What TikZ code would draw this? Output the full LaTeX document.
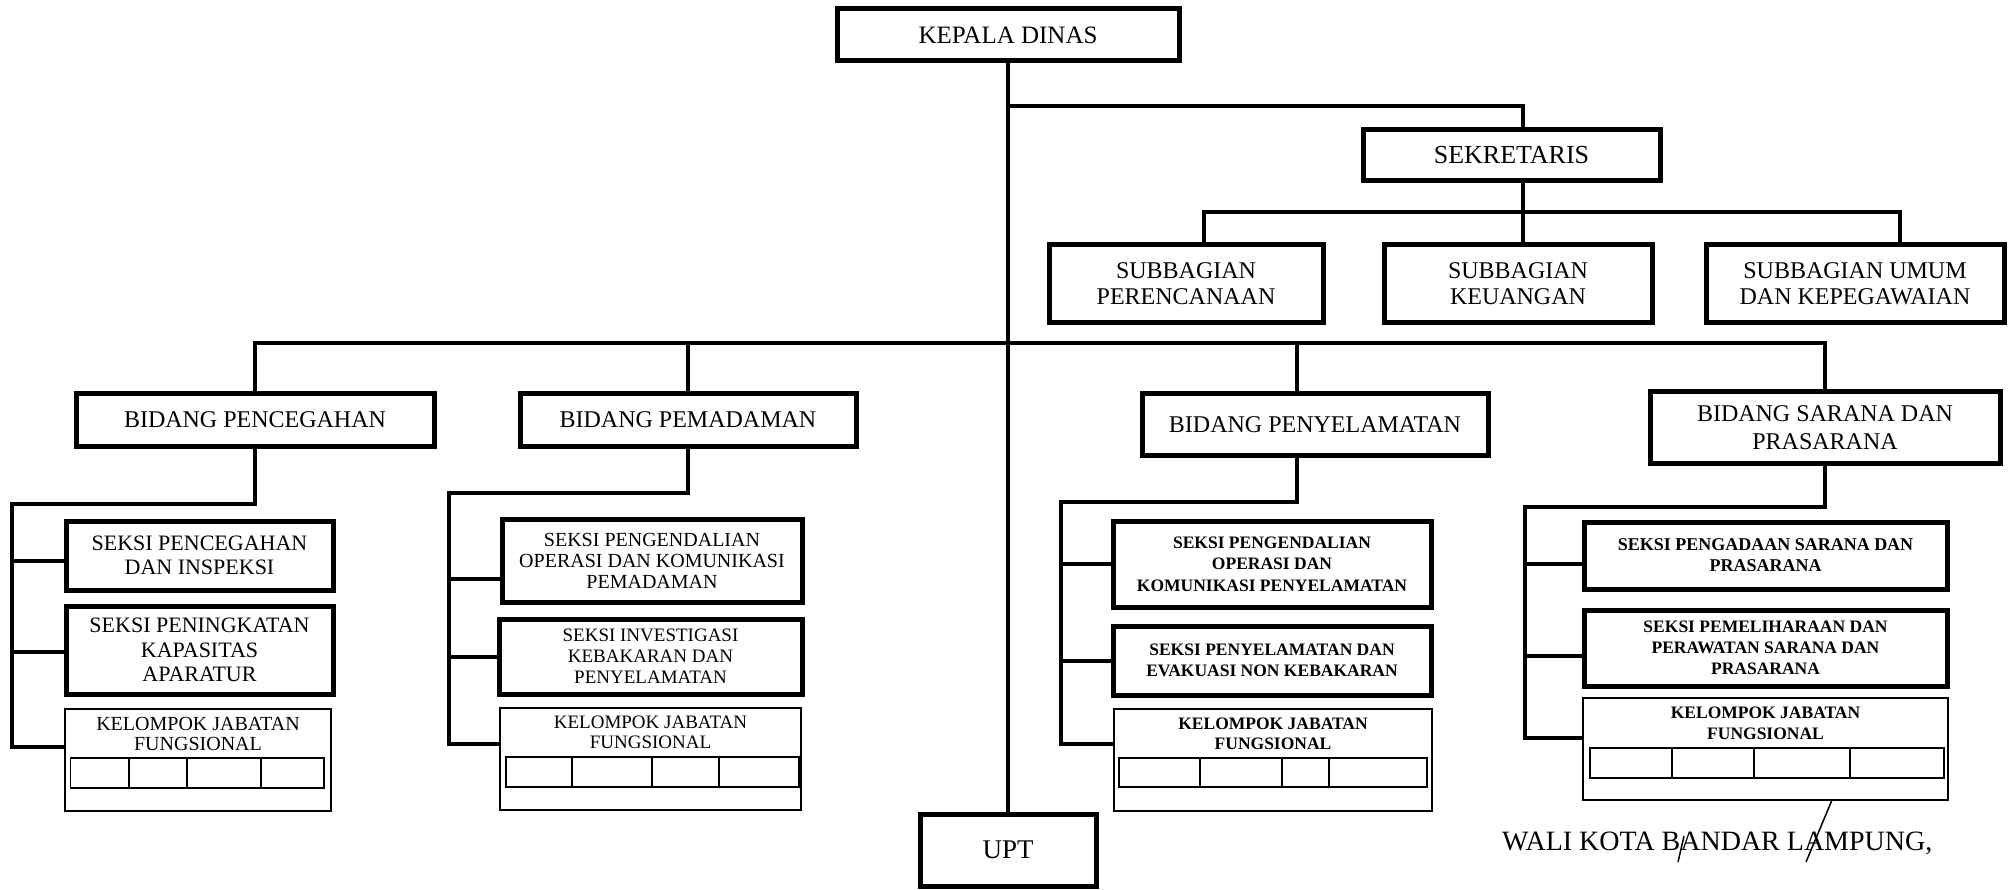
\documentclass[tikz,border=0pt]{standalone}
\usepackage{fontspec}
\setmainfont{Liberation Serif}
\newcommand{\fs}[2]{\fontsize{#1}{#2}\selectfont}
\tikzset{
  box/.style={draw, line width=5pt, rectangle, align=center, inner sep=0pt},
  thinbox/.style={draw, line width=2pt, rectangle, inner sep=0pt},
  conn/.style={line width=4pt},
  tbl/.style={line width=1.5pt},
  ttl/.style={anchor=north, align=center, inner sep=0pt},
}
\begin{document}
\begin{tikzpicture}[x=1pt,y=-1pt]
\useasboundingbox (0,0) rectangle (2011,890);
% top
\node[box, minimum width=342pt, minimum height=52pt, font=\fs{25}{28}] (kd) at (1008,35) {KEPALA DINAS};
\node[box, minimum width=297pt, minimum height=51pt, font=\fs{26}{28}] (sek) at (1511.5,155.5) {SEKRETARIS};
\node[box, minimum width=274pt, minimum height=78pt, font=\fs{24}{26}] (sp) at (1186,284) {SUBBAGIAN\\PERENCANAAN};
\node[box, minimum width=268pt, minimum height=78pt, font=\fs{24}{26}] (sk) at (1518,284) {SUBBAGIAN\\KEUANGAN};
\node[box, minimum width=298pt, minimum height=78pt, font=\fs{24}{26}] (su) at (1855,284) {SUBBAGIAN UMUM\\DAN KEPEGAWAIAN};
% bidang
\node[box, minimum width=358pt, minimum height=52pt, font=\fs{24}{28}] (bp) at (255,420) {BIDANG PENCEGAHAN};
\node[box, minimum width=336pt, minimum height=52pt, font=\fs{24}{28}] (pm) at (688,420) {BIDANG PEMADAMAN};
\node[box, minimum width=346pt, minimum height=61pt, font=\fs{24}{28}] (py) at (1315,424.5) {BIDANG PENYELAMATAN};
\node[box, minimum width=350pt, minimum height=71pt, font=\fs{24}{28}] (bs) at (1825,427.5) {BIDANG SARANA DAN\\PRASARANA};
% column 1
\node[box, minimum width=267pt, minimum height=69pt, font=\fs{22}{24}] (s11) at (199.5,555.5) {SEKSI PENCEGAHAN\\DAN INSPEKSI};
\node[box, minimum width=267pt, minimum height=88pt, font=\fs{22}{24.5}] (s12) at (199.5,650) {SEKSI PENINGKATAN\\KAPASITAS\\APARATUR};
\node[thinbox, minimum width=266pt, minimum height=102pt] (kj1) at (198,760) {};
\node[ttl, font=\fs{20}{20}] (kj1t) at ([yshift=-9pt]kj1.north) {KELOMPOK JABATAN\\FUNGSIONAL};
% column 2
\node[box, minimum width=300pt, minimum height=83pt, font=\fs{20}{21}] (s21) at (652,560.5) {SEKSI PENGENDALIAN\\OPERASI DAN KOMUNIKASI\\PEMADAMAN};
\node[box, minimum width=303pt, minimum height=75pt, font=\fs{19}{21}] (s22) at (650.5,656.5) {SEKSI INVESTIGASI\\KEBAKARAN DAN\\PENYELAMATAN};
\node[thinbox, minimum width=301pt, minimum height=102pt] (kj2) at (650.5,759) {};
\node[ttl, font=\fs{19}{20}] (kj2t) at ([yshift=-9pt]kj2.north) {KELOMPOK JABATAN\\FUNGSIONAL};
% column 3
\node[box, minimum width=318pt, minimum height=86pt, font=\bfseries\fs{17.5}{21.5}] (s31) at (1272,564) {SEKSI PENGENDALIAN\\OPERASI DAN\\KOMUNIKASI PENYELAMATAN};
\node[box, minimum width=318pt, minimum height=69pt, font=\bfseries\fs{17.5}{21.5}] (s32) at (1272,660.5) {SEKSI PENYELAMATAN DAN\\EVAKUASI NON KEBAKARAN};
\node[thinbox, minimum width=318pt, minimum height=102pt] (kj3) at (1273,760) {};
\node[ttl, font=\bfseries\fs{17.5}{20}] (kj3t) at ([yshift=-10pt]kj3.north) {KELOMPOK JABATAN\\FUNGSIONAL};
% column 4
\node[box, minimum width=363pt, minimum height=67pt, font=\bfseries\fs{18}{21}] (s41) at (1765.5,555.5) {SEKSI PENGADAAN SARANA DAN\\PRASARANA};
\node[box, minimum width=363pt, minimum height=76pt, font=\bfseries\fs{17.5}{21}] (s42) at (1765.5,648) {SEKSI PEMELIHARAAN DAN\\PERAWATAN SARANA DAN\\PRASARANA};
\node[thinbox, minimum width=365pt, minimum height=102pt] (kj4) at (1765.5,749) {};
\node[ttl, font=\bfseries\fs{17.5}{21}] (kj4t) at ([yshift=-10pt]kj4.north) {KELOMPOK JABATAN\\FUNGSIONAL};
% UPT
\node[box, minimum width=176pt, minimum height=72pt, font=\fs{27}{28}] (upt) at (1008,850) {UPT};
% signature line
\node[anchor=west, inner sep=0pt, font=\fs{28}{30}] (wali) at (1502,843) {WALI KOTA BANDAR LAMPUNG,};
\draw[line width=1.5pt] (1832,800) -- (1806,862);
\draw[line width=1.5pt] (1684,836) -- (1678,862);

% coordinates for connectors
\coordinate (b1) at (0,106);
\coordinate (b2) at (0,212);
\coordinate (b3) at (0,343);
\coordinate (sekT) at ([xshift=11.5pt]sek.north);
\coordinate (sekB) at ([xshift=11.5pt]sek.south);
\coordinate (spT) at ([xshift=18pt]sp.north);
\coordinate (skT) at ([xshift=5pt]sk.north);
\coordinate (suT) at ([xshift=45pt]su.north);
\coordinate (pyT) at ([xshift=-18pt]py.north);
\coordinate (pyB) at ([xshift=-18pt]py.south);
\coordinate (c1) at (12,504);
\coordinate (c2) at (449,493);
\coordinate (c3) at (1061,502);
\coordinate (c4) at (1525,507);
\coordinate (s11b) at ([yshift=-5.5pt]s11.west);
\coordinate (s12b) at ([yshift=-2pt]s12.west);
\coordinate (k1b) at ([yshift=-39pt]kj1.north west);
\coordinate (s21b) at ([yshift=-18.5pt]s21.west);
\coordinate (s22b) at (s22.west);
\coordinate (k2b) at ([yshift=-37pt]kj2.north west);
\coordinate (s31b) at (s31.west);
\coordinate (s32b) at (s32.west);
\coordinate (k3b) at ([yshift=-36pt]kj3.north west);
\coordinate (s41b) at ([yshift=-8.5pt]s41.west);
\coordinate (s42b) at ([yshift=-8pt]s42.west);
\coordinate (k4b) at ([yshift=-41pt]kj4.north west);

% trunk
\draw[conn] (kd.south) -- (upt.north);
\draw[conn] (kd.south |- b1) -| (sekT);
\draw[conn] (sekB) -- (skT);
\draw[conn] (spT) |- (suT |- b2) -- (suT);
% bidang bus
\draw[conn] (bp.north) |- (bs.north |- b3) -- (bs.north);
\draw[conn] (pm.north) -- (pm.north |- b3);
\draw[conn] (pyT) -- (pyT |- b3);
% brackets
\draw[conn] (bp.south) |- (c1) -- (c1 |- k1b) -- (k1b);
\draw[conn] (c1 |- s11b) -- (s11b);
\draw[conn] (c1 |- s12b) -- (s12b);
\draw[conn] (pm.south) |- (c2) -- (c2 |- k2b) -- (k2b);
\draw[conn] (c2 |- s21b) -- (s21b);
\draw[conn] (c2 |- s22b) -- (s22b);
\draw[conn] (pyB) |- (c3) -- (c3 |- k3b) -- (k3b);
\draw[conn] (c3 |- s31b) -- (s31b);
\draw[conn] (c3 |- s32b) -- (s32b);
\draw[conn] (bs.south) |- (c4) -- (c4 |- k4b) -- (k4b);
\draw[conn] (c4 |- s41b) -- (s41b);
\draw[conn] (c4 |- s42b) -- (s42b);

% tables
\draw[tbl] (70.5,758) rectangle (324,788);
\foreach \x in {129,187,261} \draw[tbl] (\x,758) -- (\x,788);
\draw[tbl] (506,757) rectangle (799,787);
\foreach \x in {572,652,719} \draw[tbl] (\x,757) -- (\x,787);
\draw[tbl] (1119,758) rectangle (1427,787);
\foreach \x in {1200,1282,1329} \draw[tbl] (\x,758) -- (\x,787);
\draw[tbl] (1590,748) rectangle (1944,778);
\foreach \x in {1672,1754,1850} \draw[tbl] (\x,748) -- (\x,778);
\end{tikzpicture}
\end{document}
